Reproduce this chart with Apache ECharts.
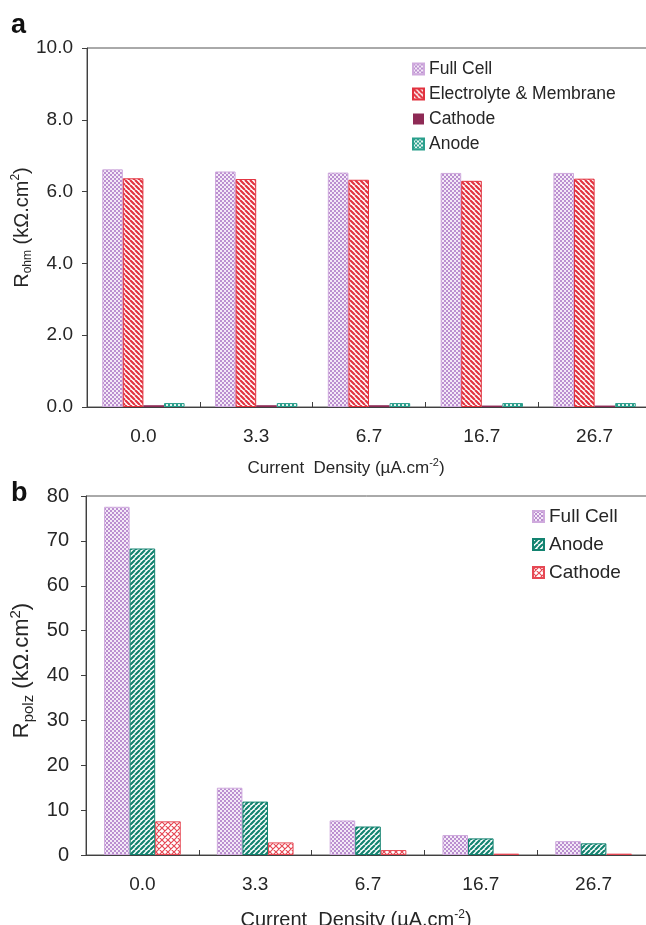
<!DOCTYPE html>
<html>
<head>
<meta charset="utf-8">
<script src="https://cdn.jsdelivr.net/npm/echarts@6/dist/echarts.min.js"></script>
<style>
  html, body { margin: 0; padding: 0; background: #fff; }
  #main { width: 646px; height: 925px; }
</style>
</head>
<body>
<div id="main"></div>
<script>
// data
var categories = ["0.0", "3.3", "6.7", "16.7", "26.7"];
var yTicksA = [0, 2, 4, 6, 8, 10];
var yTicksB = [0, 10, 20, 30, 40, 50, 60, 70, 80];

// (a) ohmic resistance, kOhm.cm2
var ohmFull = [6.62, 6.56, 6.53, 6.52, 6.52];
var ohmElectrolyte = [6.37, 6.35, 6.33, 6.30, 6.36];
var ohmCathode = [0.05, 0.05, 0.05, 0.04, 0.04];
var ohmAnode = [0.11, 0.11, 0.11, 0.11, 0.11];

// (b) polarization resistance, kOhm.cm2
var polzFull = [77.6, 15.0, 7.7, 4.45, 3.1];
var polzAnode = [68.3, 11.9, 6.35, 3.7, 2.6];
var polzCathode = [7.5, 2.8, 1.1, 0.3, 0.3];

var FONT = "Liberation Sans, Arial, sans-serif";

// small canvases used as fill patterns
function checker(c1, c2, cell) {
  var cv = document.createElement("canvas");
  cv.width = cv.height = cell * 2;
  var ctx = cv.getContext("2d");
  ctx.fillStyle = c2;
  ctx.fillRect(0, 0, cell * 2, cell * 2);
  ctx.fillStyle = c1;
  ctx.fillRect(0, 0, cell, cell);
  ctx.fillRect(cell, cell, cell, cell);
  return { image: cv, repeat: "repeat" };
}
function stripes(color, s, lw, dir) {
  var cv = document.createElement("canvas");
  cv.width = cv.height = s;
  var ctx = cv.getContext("2d");
  ctx.fillStyle = "#fff";
  ctx.fillRect(0, 0, s, s);
  ctx.strokeStyle = color;
  ctx.lineWidth = lw;
  ctx.beginPath();
  for (var k = -1; k <= 1; k++) {
    if (dir == "\\" || dir == "x") {
      ctx.moveTo(k * s, 0);
      ctx.lineTo(k * s + s, s);
    }
    if (dir == "/" || dir == "x") {
      ctx.moveTo(k * s, s);
      ctx.lineTo(k * s + s, 0);
    }
  }
  ctx.stroke();
  return { image: cv, repeat: "repeat" };
}

var lilac = checker("#bb8fd0", "#f4eaf7", 2);
var redStripe = stripes("#e2323f", 5, 2.2, "\\");
var tealDots = checker("#2a9f8c", "#e6f5f2", 2);
var tealStripe = stripes("#138370", 5, 2.2, "/");
var redCross = stripes("#e64854", 6, 1.2, "x");

var textCol = "#262626";
var axisCol = "#404040";

function yAxisCfg(idx, max, interval, name, digits, o) {
  return {
    type: "value",
    gridIndex: idx,
    min: 0,
    max: max,
    interval: interval,
    splitLine: { show: false },
    axisLine: { show: true, lineStyle: { color: axisCol, width: 1 } },
    axisTick: { show: true, inside: false, length: 5, lineStyle: { color: axisCol } },
    axisLabel: {
      color: textCol,
      fontSize: o.tick,
      fontFamily: FONT,
      margin: o.margin,
      formatter: function (v) { return v.toFixed(digits); }
    },
    name: name,
    nameLocation: "middle",
    nameRotate: 90,
    nameGap: o.gap,
    nameMoveOverlap: false,
    nameTextStyle: {
      color: textCol,
      fontFamily: FONT,
      padding: o.pad,
      rich: {
        r: { fontSize: o.fs, fontFamily: FONT, color: textCol, lineHeight: o.lh },
        s: { fontSize: o.sub, fontFamily: FONT, color: textCol, lineHeight: o.lh, verticalAlign: "bottom" },
        p: { fontSize: o.sub, fontFamily: FONT, color: textCol, lineHeight: o.lh, verticalAlign: "top" }
      }
    }
  };
}

function xAxisCfg(idx, gap, fs, padRight) {
  return {
    type: "category",
    gridIndex: idx,
    data: categories,
    axisLine: { show: true, lineStyle: { color: axisCol, width: 1 } },
    axisTick: { show: true, inside: true, length: 5, lineStyle: { color: axisCol } },
    axisLabel: { color: textCol, fontSize: 19, fontFamily: FONT, margin: 20 },
    name: "{r|Current  Density (\u00b5A.cm}{p|-2}{r|)}",
    nameLocation: "middle",
    nameGap: gap,
    nameTextStyle: {
      padding: [0, padRight, 0, 0],
      rich: {
        r: { fontSize: fs, fontFamily: FONT, color: textCol, lineHeight: 22 },
        p: { fontSize: Math.round(fs * 0.62), fontFamily: FONT, color: textCol, lineHeight: 22, verticalAlign: "top" }
      }
    }
  };
}

var chart = echarts.init(document.getElementById("main"), null, { renderer: "canvas" });

var option = {
  backgroundColor: "#fff",
  animation: false,
  textStyle: { fontFamily: FONT },
  graphic: [
    { type: "text", left: 11, top: 12, style: { text: "a", fontSize: 27, fontWeight: "bold", fontFamily: FONT, fill: "#111" } },
    { type: "text", left: 11, top: 480, style: { text: "b", fontSize: 27, fontWeight: "bold", fontFamily: FONT, fill: "#111" } }
  ],
  grid: [
    { left: 87, top: 48, width: 564, height: 359, show: true, borderColor: "#555", borderWidth: 1, containLabel: false, outerBoundsMode: "none" },
    { left: 86, top: 496, width: 564, height: 359, show: true, borderColor: "#555", borderWidth: 1, containLabel: false, outerBoundsMode: "none" }
  ],
  legend: [
    {
      orient: "vertical",
      left: 407,
      top: 55,
      itemWidth: 11,
      itemHeight: 11,
      itemGap: 7,
      icon: "rect",
      textStyle: { color: textCol, fontSize: 17.5, fontFamily: FONT },
      data: ["Full Cell", "Electrolyte & Membrane", "Cathode", "Anode"]
    },
    {
      orient: "vertical",
      left: 527,
      top: 502,
      itemWidth: 11,
      itemHeight: 11,
      itemGap: 9,
      icon: "rect",
      textStyle: { color: textCol, fontSize: 19, fontFamily: FONT },
      data: ["Full Cell ", "Anode ", "Cathode "]
    }
  ],
  xAxis: [xAxisCfg(0, 50, 17, 46), xAxisCfg(1, 54, 20, 24)],
  yAxis: [
    yAxisCfg(0, 10, 2, "{r|R}{s|ohm}{r| (k\u03a9.cm}{p|2}{r|)}", 1,
      { tick: 19, margin: 14, gap: 53, pad: [0, 0, 0, 0], fs: 20, sub: 12, lh: 24 }),
    yAxisCfg(1, 80, 10, "{r|R}{s|polz}{r| (k\u03a9.cm}{p|2}{r|)}", 0,
      { tick: 20, margin: 17, gap: 50, pad: [0, 0, 0, 10], fs: 22, sub: 15, lh: 28 })
  ],
  series: [
    {
      name: "Full Cell", type: "bar", xAxisIndex: 0, yAxisIndex: 0,
      data: ohmFull, barGap: "0%", barCategoryGap: "27%",
      itemStyle: { color: lilac, borderColor: "#cfaadd", borderWidth: 1 }
    },
    {
      name: "Electrolyte & Membrane", type: "bar", xAxisIndex: 0, yAxisIndex: 0,
      data: ohmElectrolyte, barGap: "0%", barCategoryGap: "27%",
      itemStyle: { color: redStripe, borderColor: "#e2323f", borderWidth: 1 }
    },
    {
      name: "Cathode", type: "bar", xAxisIndex: 0, yAxisIndex: 0,
      data: ohmCathode, barGap: "0%", barCategoryGap: "27%",
      itemStyle: { color: "#8e2a55" }
    },
    {
      name: "Anode", type: "bar", xAxisIndex: 0, yAxisIndex: 0,
      data: ohmAnode, barGap: "0%", barCategoryGap: "27%",
      itemStyle: { color: tealDots, borderColor: "#2a9f8c", borderWidth: 1 }
    },
    {
      name: "Full Cell ", type: "bar", xAxisIndex: 1, yAxisIndex: 1,
      data: polzFull, barGap: "0%", barCategoryGap: "32%",
      itemStyle: { color: lilac, borderColor: "#cfaadd", borderWidth: 1 }
    },
    {
      name: "Anode ", type: "bar", xAxisIndex: 1, yAxisIndex: 1,
      data: polzAnode, barGap: "0%", barCategoryGap: "32%",
      itemStyle: { color: tealStripe, borderColor: "#138370", borderWidth: 1 }
    },
    {
      name: "Cathode ", type: "bar", xAxisIndex: 1, yAxisIndex: 1,
      data: polzCathode, barGap: "0%", barCategoryGap: "32%",
      itemStyle: { color: redCross, borderColor: "#e64854", borderWidth: 1 }
    }
  ]
};

chart.setOption(option);
</script>
</body>
</html>
